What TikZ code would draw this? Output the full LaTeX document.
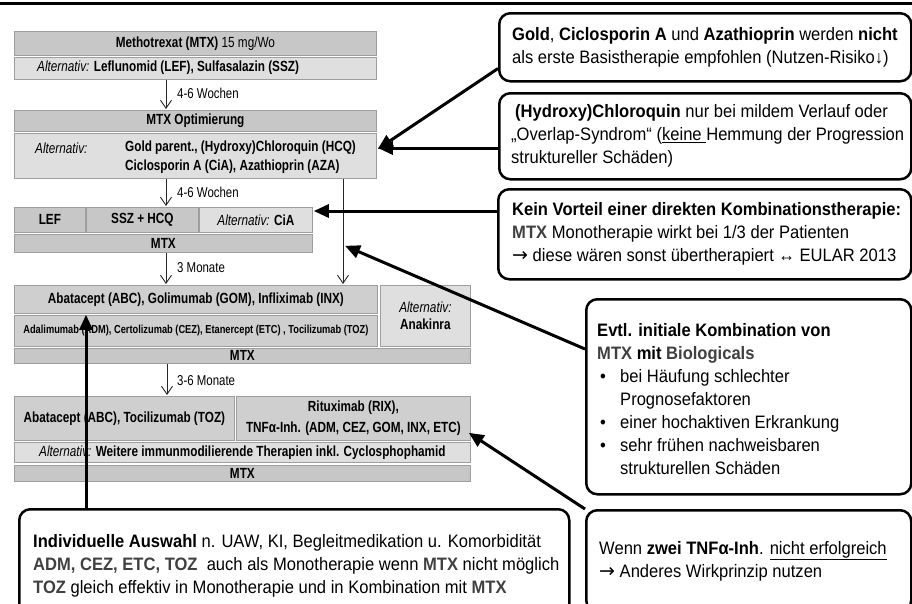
\documentclass[tikz,border=0pt]{standalone}
\usepackage{fontspec}
\setmainfont{Liberation Sans}
\newfontfamily\nar{Liberation Sans}[FakeStretch=0.8]
\newfontfamily\rfont{Liberation Sans}[FakeStretch=0.92]
\newfontfamily\dv{DejaVu Sans}
\usetikzlibrary{arrows.meta,calc}
\definecolor{boxdark}{gray}{0.78}
\definecolor{boxmid}{gray}{0.81}
\definecolor{boxlight}{gray}{0.875}
\definecolor{boxedge}{gray}{0.62}
\definecolor{gtxt}{gray}{0.25}
\newcommand\altv{\textmd{\textit{Alternativ:}}}
\newcommand\rarr{{\dv\fontsize{19}{19}\selectfont →}}
\begin{document}
\begin{tikzpicture}[x=1pt,y=-1pt,
  fb/.style={draw=boxedge, line width=0.8pt, anchor=north west, inner sep=0pt, align=center, font=\nar\fontsize{14.7}{17}\selectfont\bfseries},
  dk/.style={fb, fill=boxdark},
  md/.style={fb, fill=boxmid},
  lt/.style={fb, fill=boxlight},
  ftxt/.style={inner sep=0pt, anchor=west, align=left, font=\nar\fontsize{14.7}{19}\selectfont\bfseries},
  lbl/.style={inner sep=0pt, anchor=west, font=\nar\fontsize{14.3}{15}\selectfont},
  tarrow/.style={draw=black!85, line width=0.9pt, -{Straight Barb[length=8pt,width=11pt]}},
  rb/.style={draw=black, line width=2.5pt, rounded corners=11pt, anchor=north west, inner sep=0pt, fill=white},
  rt/.style={inner sep=0pt, anchor=west, align=left, font=\rfont\fontsize{18}{23}\selectfont},
  bigarrow/.style={draw=black, line width=3pt, -{Triangle[length=15pt,width=13pt]}},
]
\useasboundingbox (0,0) rectangle (912,603);
\clip (0,0) rectangle (912,603);
\fill[white] (0,0) rectangle (912,603);
\draw[line width=3pt] (0,3.5) coordinate (tl) -- (912,3.5) coordinate (tr);

% ---- flowchart ----
\node[dk, minimum width=362, minimum height=24] (b1) at (14,31) {Methotrexat (MTX) \mdseries 15 mg/Wo};
\node[lt, minimum width=362, minimum height=22] (b2) at (14,57) {};
\node[ftxt] (t2) at (37,68) {\altv{} Leflunomid (LEF), Sulfasalazin (SSZ)};
\node[dk, minimum width=362, minimum height=21] (b3) at (14,110) {MTX Optimierung};
\node[lt, minimum width=362, minimum height=45] (b4) at (14,133) {};
\node[ftxt] (t4a) at (35,148) {\altv};
\node[ftxt] (t4b) at (125,157.5) {Gold parent., (Hydroxy)Chloroquin (HCQ)\\Ciclosporin A (CiA), Azathioprin (AZA)};

\node[dk, minimum width=71, minimum height=25] (lef) at (14,207) {LEF};
\node[dk, minimum width=112, minimum height=25] (ssz) at (86,207) {SSZ + HCQ};
\node[lt, minimum width=113, minimum height=25] (cia) at (199,207) {\altv{} CiA};
\node[dk, minimum width=298, minimum height=18] (mtx1) at (14,234) {MTX};

\node[md, minimum width=363, minimum height=28] (aba) at (14,285) {Abatacept (ABC), Golimumab (GOM), Infliximab (INX)};
\node[md, minimum width=363, minimum height=31, font=\nar\fontsize{11.6}{13}\selectfont\bfseries] (ada) at (14,315) {Adalimumab (ADM), Certolizumab (CEZ), Etanercept (ETC) , Tocilizumab (TOZ)};
\node[lt, minimum width=90, minimum height=61] (ana) at (380,285) {\altv\\Anakinra};
\node[dk, minimum width=456, minimum height=15] (mtx2) at (14,348) {MTX};

\node[md, minimum width=220, minimum height=44] (abt) at (14,396) {Abatacept (ABC), Tocilizumab (TOZ)};
\node[md, minimum width=234, minimum height=44, font=\nar\fontsize{14.7}{21}\selectfont\bfseries] (rit) at (236,396) {Rituximab (RIX),\\TNFα-Inh. (ADM, CEZ, GOM, INX, ETC)};
\node[lt, minimum width=456, minimum height=20] (wei) at (14,442) {\altv{} Weitere immunmodilierende Therapien inkl. Cyclosphophamid};
\node[dk, minimum width=456, minimum height=16] (mtx3) at (14,465) {MTX};

% thin arrows
\draw[tarrow] ($(b2.south west)+(152,0)$) -- ($(b3.north west)+(152,-1)$);
\node[lbl] (l1) at (177,93) {4-6 Wochen};
\draw[tarrow] ($(b4.south west)+(152,0)$) -- ($(ssz.north west)+(80,-1)$);
\node[lbl] (l2) at (177,192) {4-6 Wochen};
\draw[tarrow] ($(mtx1.south west)+(152,0)$) -- ($(aba.north west)+(152,-1)$);
\node[lbl] (l3) at (177,268) {3 Monate};
\draw[tarrow] ($(mtx2.south west)+(153,0)$) -- ($(abt.north west)+(153,-1)$);
\node[lbl] (l4) at (177,381) {3-6 Monate};
\draw[tarrow] ($(b4.south west)+(329,0)$) -- ($(aba.north west)+(329,-1)$);
\coordinate (hit) at ($(b4.south west)+(331,67)$);

% ---- right boxes ----
\node[rb, minimum width=412, minimum height=68] (A) at (498,12) {};
\node[rt] (tA) at (512,47) {\textbf{Gold}, \textbf{Ciclosporin A} und \textbf{Azathioprin} werden \textbf{nicht}\\als erste Basistherapie empfohlen (Nutzen-Risiko↓)};

\node[rb, minimum width=412, minimum height=86] (B) at (498,92) {};
\node[rt] (tB) at (511,136) {\hspace*{4pt}\textbf{(Hydroxy)Chloroquin} nur bei mildem Verlauf oder\\„Overlap-Syndrom“ (\underline{keine\ }Hemmung der Progression\\struktureller Schäden)};

\node[rb, minimum width=413, minimum height=90] (C) at (497,188) {};
\node[rt] (tC) at (512,234) {\textbf{Kein Vorteil einer direkten Kombinationstherapie:}\\\textcolor{gtxt}{\textbf{MTX}} Monotherapie wirkt bei 1/3 der Patienten\\\rarr{} diese wären sonst übertherapiert ↔ EULAR 2013};

\node[rb, minimum width=325, minimum height=195] (D) at (585,298) {};
\node[rt] (tD) at (597,399) {\textbf{Evtl. initiale Kombination von}\\\textbf{\textcolor{gtxt}{MTX} mit \textcolor{gtxt}{Biologicals}}\\\makebox[23pt][l]{\hspace*{3pt}•}bei Häufung schlechter\\\hspace*{23pt}Prognosefaktoren\\\makebox[23pt][l]{\hspace*{3pt}•}einer hochaktiven Erkrankung\\\makebox[23pt][l]{\hspace*{3pt}•}sehr frühen nachweisbaren\\\hspace*{23pt}strukturellen Schäden};

\node[rb, minimum width=325, minimum height=101] (E) at (585,509) {};
\node[rt] (tE) at (599,561) {Wenn \textbf{zwei TNFα-Inh}. \underline{nicht erfolgreich}\\\rarr{} Anderes Wirkprinzip nutzen};

\node[rb, minimum width=550, minimum height=114] (F) at (18,508) {};
\node[rt] (tF) at (33,566) {\textbf{Individuelle Auswahl} n. UAW, KI, Begleitmedikation u. Komorbidität\\\textbf{\textcolor{gtxt}{ADM, CEZ, ETC, TOZ}}\ \ auch als Monotherapie wenn \textbf{\textcolor{gtxt}{MTX}} nicht möglich\\\textbf{\textcolor{gtxt}{TOZ}} gleich effektiv in Monotherapie und in Kombination mit \textbf{\textcolor{gtxt}{MTX}}};

% ---- thick arrows ----
\draw[bigarrow] ($(A.south west)+(0,-14)$) -- ($(b4.north east)+(1,16)$);
\draw[bigarrow] ($(B.north west)+(0,56)$) -- ($(b4.north east)+(1,15)$);
\draw[bigarrow] ($(C.north west)+(0,23)$) -- ($(cia.north east)+(1,4)$);
\draw[bigarrow] ($(D.north west)+(0,51)$) -- (hit);
\draw[bigarrow] (E.north west) -- ($(rit.south east)+(-2,-8)$);
\draw[bigarrow] ($(F.north west)+(68,0)$) -- ($(aba.south west)+(72,1)$);
\end{tikzpicture}
\end{document}
